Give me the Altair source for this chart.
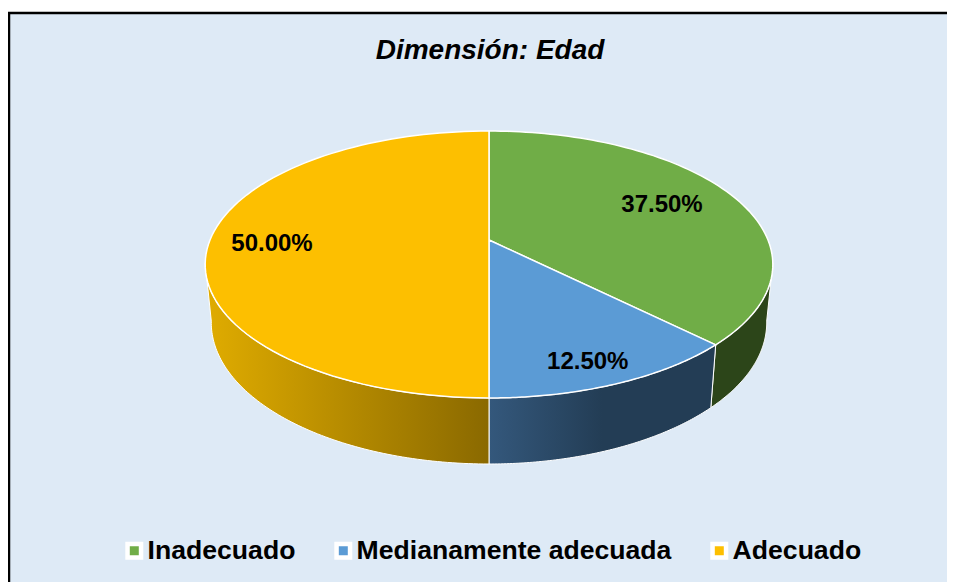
import math
import altair as alt
import pandas as pd

categorias = ["Inadecuado", "Medianamente adecuada", "Adecuado"]
porcentajes = [37.5, 12.5, 50.0]
etiquetas = ["37.50%", "12.50%", "50.00%"]
colores = ["#70AD47", "#5B9BD5", "#FDBF00"]

# perspective disc parameters (page pixels)
TOP = dict(cx=489.0, cy=240.0, a=279.0, b=129.0, p=0.1835)
BOT = dict(cx=489.0, cy=296.7, a=273.0, b=136.6, p=0.1835)
SIL_R, SIL_L = 100.0, 260.0      # silhouette angles of the side wall
RADIO_ETIQ = [0.712, 0.861, 0.774]
ANG_ETIQ = [66.4, 159.5, 267.7]
PW, PH = 938, 569


def proj(d, ang, r=1.0):
    t = math.radians(ang)
    u, v = r * math.sin(t), -r * math.cos(t)
    den = 1 - d["p"] * v
    return d["cx"] + d["a"] * u / den, d["cy"] + d["b"] * v / den


def arc(d, a0, a1, n=90):
    return [proj(d, a0 + (a1 - a0) * i / n) for i in range(n + 1)]


cum = [0.0]
for s in porcentajes:
    cum.append(cum[-1] + s * 3.6)

top_rows, wall_data, label_rows = [], [], []
for k, cat in enumerate(categorias):
    a0, a1 = cum[k], cum[k + 1]
    pts = [proj(TOP, 0, 0)] + arc(TOP, a0, a1) + [proj(TOP, 0, 0)]
    for i, (x, y) in enumerate(pts):
        top_rows.append(dict(cat=cat, i=i, x=x, y=y))
    w0, w1 = max(a0, SIL_R), min(a1, SIL_L)
    wpts = arc(TOP, w0, w1) + arc(BOT, w0, w1)[::-1]
    wpts.append(wpts[0])
    wall_data.append(pd.DataFrame([dict(i=i, x=x, y=y) for i, (x, y) in enumerate(wpts)]))
    lx, ly = proj(TOP, ANG_ETIQ[k], RADIO_ETIQ[k])
    label_rows.append(dict(t=etiquetas[k], x=lx, y=ly))

X = alt.X("x:Q", scale=alt.Scale(domain=[9, 9 + PW], nice=False, zero=False), axis=None)
Y = alt.Y("y:Q", scale=alt.Scale(domain=[582, 13], nice=False, zero=False), axis=None)

wall_fills = [
    "#2C4519",
    alt.LinearGradient(gradient="linear", stops=[alt.GradientStop(color="#34587C", offset=0),
                                  alt.GradientStop(color="#233D55", offset=0.5),
                                  alt.GradientStop(color="#233D55", offset=1)],
                 x1=0, x2=1, y1=0, y2=0),
    alt.LinearGradient(gradient="linear", stops=[alt.GradientStop(color="#E0AC00", offset=0),
                                  alt.GradientStop(color="#8A6900", offset=1)],
                 x1=0, x2=1, y1=0, y2=0),
]
walls = [
    alt.Chart(df).mark_line(fill=f, stroke="white", strokeWidth=1, strokeJoin="round")
    .encode(x=X, y=Y, order=alt.Order("i:Q"))
    for df, f in zip(wall_data, wall_fills)
]

top = alt.Chart(pd.DataFrame(top_rows)).mark_line(
    stroke="white", strokeWidth=1.5, strokeJoin="round"
).encode(
    x=X, y=Y, order=alt.Order("i:Q"),
    fill=alt.Fill(
        "cat:N",
        scale=alt.Scale(domain=categorias, range=colores),
        legend=alt.Legend(
            title=None, orient="none", direction="horizontal",
            legendX=112, legendY=524, labelLimit=500,
            symbolType="square", symbolSize=182,
            symbolStrokeColor="white", symbolStrokeWidth=4.5,
            labelFont="Liberation Sans", labelFontWeight="bold",
            labelFontSize=26.6, labelColor="black", labelOffset=0,
            columnPadding=31, symbolOpacity=1,
        ),
    ),
)

labels = alt.Chart(pd.DataFrame(label_rows)).mark_text(
    font="Liberation Sans", fontWeight="bold", fontSize=24, color="black"
).encode(x=X, y=Y, text="t:N")

borde_sup = alt.Chart(pd.DataFrame({"a": [0]})).mark_rule(color="black", strokeWidth=2.5).encode(
    x=alt.value(-1), x2=alt.value(PW), y=alt.value(0))
borde_izq = alt.Chart(pd.DataFrame({"a": [0]})).mark_rule(color="black", strokeWidth=2.5).encode(
    y=alt.value(-1), y2=alt.value(PH), x=alt.value(0))

chart = alt.layer(*walls, top, labels, borde_sup, borde_izq).properties(
    width=PW, height=PH,
    padding={"left": 1, "top": 5, "right": 0, "bottom": 0},
    autosize=alt.AutoSizeParams(type="none"),
    background="white",
    title=alt.TitleParams(
        "Dimensión: Edad", font="Liberation Sans", fontSize=28, fontWeight="bold",
        fontStyle="italic", color="black", anchor="middle", dx=12, dy=54, offset=0,
    ),
).configure_view(fill="#DEEAF6", stroke=None)

chart.save("out.html", embed_options={"renderer": "svg", "actions": False})
